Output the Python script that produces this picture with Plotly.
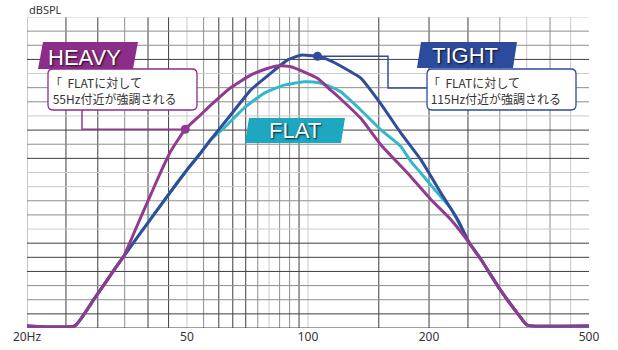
import numpy as np
import plotly.graph_objects as go

# ---- response data (frequency in Hz, level in grid divisions above the floor) ----
HEAVY_HZ = [20, 26.3, 29.3, 33.2, 34.8, 37.5, 40.1, 42.9, 45.5, 49.5, 54.0, 57.2, 64.2, 72.0,
            79.2, 84.7, 90.6, 97.7, 105.6, 113.9, 120.6, 135.3, 151.9, 177.0, 202.4, 226.8,
            252.0, 269.6, 296.8, 326.4, 349.0, 359.0, 500]
HEAVY_LV = [0.15, 0.15, 2.0, 4.25, 5.07, 7.18, 9.07, 10.95, 12.48, 14.06, 15.07, 15.75, 17.0, 17.89,
            18.36, 18.55, 18.48, 18.12, 17.66, 16.83, 16.2, 14.83, 12.95, 10.95, 9.07, 7.66,
            6.01, 4.83, 2.95, 1.31, 0.25, 0.15, 0.15]

TIGHT_HZ = [20, 26.3, 29.3, 33.2, 38.3, 44.6, 50.0, 54.0, 57.2, 64.2, 72.0, 80.7, 88.8, 95.9,
            105.6, 113.9, 120.6, 135.3, 151.9, 170.3, 191.0, 214.2, 235.8, 252.0, 269.6, 296.8,
            326.4, 349.0, 359.0, 500]
TIGHT_LV = [0.15, 0.15, 2.0, 4.25, 6.72, 9.30, 11.19, 12.36, 13.30, 15.07, 16.83, 18.01, 18.95, 19.30,
            19.22, 18.9, 18.53, 17.68, 15.84, 13.78, 11.89, 9.54, 7.66, 6.01, 4.83, 2.95,
            1.31, 0.25, 0.15, 0.15]

FLAT_HZ = [20, 26.3, 29.3, 33.2, 38.3, 44.6, 50.0, 54.0, 57.2, 61.7, 69.2, 77.7, 87.1, 97.7,
           105.6, 113.9, 120.6, 135.3, 151.9, 170.3, 180.4, 191.0, 210.2, 226.8, 252.0, 269.6,
           296.8, 326.4, 349.0, 359.0, 500]
FLAT_LV = [0.15, 0.15, 2.0, 4.25, 6.72, 9.30, 11.19, 12.36, 13.30, 14.13, 15.54, 16.6, 17.18, 17.42,
           17.37, 17.06, 16.71, 15.42, 14.01, 12.83, 11.77, 10.95, 9.54, 8.45, 6.01, 4.83,
           2.95, 1.31, 0.25, 0.15, 0.15]

X_TICKS = [20, 50, 100, 200, 500]
X_TICK_TEXT = ["20Hz", "50", "100", "200", "500"]

# callout anchor points on the curves
HEAVY_DOT_HZ = 49.5
TIGHT_DOT_HZ = 105.6

HEAVY_NOTE = "「\u00a0\u00a0FLATに対して<br>\u00a055Hz付近が強調される"
TIGHT_NOTE = "「\u00a0\u00a0FLATに対して<br>\u00a0115Hz付近が強調される"

# ---- styling ----
C_HEAVY = "#923a90"
C_TIGHT = "#2f4d99"
C_FLAT = "#33b8c9"
B_HEAVY = "#8c2e89"
B_TIGHT = "#2c4b9d"
B_FLAT = "#1ea7c0"

W, H = 618, 350
ML, MR, MT, MB = 27, 29, 17, 22
PW, PH = W - ML - MR, H - MT - MB
Y_MAX = 22

# grid lines: frequency positions and their tone
VGRID_HZ = [20, 25, 30, 35, 40, 45, 50, 55, 60, 65, 70, 75, 80, 85, 90, 95, 100,
            150, 200, 250, 300, 350, 400, 450, 500]
VGRID_TONE = "mddmddlmdddmlmmdldddmlml"
HGRID_TONE = "lmmdlmmldmdllmmldddmmdd"  # from top (level 22) to bottom (level 0)
TONES = {"d": "#3e3e3e", "m": "#8e8e8e", "l": "#cacaca"}


def X(px):
    return (px - ML) / PW


def Y(py):
    return (H - MB - py) / PH


def level_at(hz_list, lv_list, hz):
    return float(np.interp(np.log10(hz), np.log10(hz_list), lv_list))


def parallelogram(x0, x1, y0, y1, skew):
    return (f"M {X(x0 + skew)},{Y(y0)} L {X(x1 + skew)},{Y(y0)} "
            f"L {X(x1)},{Y(y1)} L {X(x0)},{Y(y1)} Z")


def round_rect(x0, y0, x1, y1, r):
    return (f"M {X(x0 + r)},{Y(y0)} L {X(x1 - r)},{Y(y0)} Q {X(x1)},{Y(y0)} {X(x1)},{Y(y0 + r)} "
            f"L {X(x1)},{Y(y1 - r)} Q {X(x1)},{Y(y1)} {X(x1 - r)},{Y(y1)} "
            f"L {X(x0 + r)},{Y(y1)} Q {X(x0)},{Y(y1)} {X(x0)},{Y(y1 - r)} "
            f"L {X(x0)},{Y(y0 + r)} Q {X(x0)},{Y(y0)} {X(x0 + r)},{Y(y0)} Z")


fig = go.Figure()

curve = dict(mode="lines", line_shape="spline", hoverinfo="skip", showlegend=False)
fig.add_trace(go.Scatter(x=FLAT_HZ, y=FLAT_LV, line=dict(color=C_FLAT, width=3, smoothing=0.4), **curve))
fig.add_trace(go.Scatter(x=TIGHT_HZ, y=TIGHT_LV, line=dict(color=C_TIGHT, width=3, smoothing=0.4), **curve))
fig.add_trace(go.Scatter(x=HEAVY_HZ, y=HEAVY_LV, line=dict(color=C_HEAVY, width=3, smoothing=0.4), **curve))

# callout leader lines, drawn in data space
heavy_dot_lv = level_at(HEAVY_HZ, HEAVY_LV, HEAVY_DOT_HZ)
tight_dot_lv = level_at(TIGHT_HZ, TIGHT_LV, TIGHT_DOT_HZ)
box_bottom_lv = (H - MB - 110) / PH * Y_MAX
heavy_leader_hz = 20 * 25 ** X(82)
tight_bend_hz = 20 * 25 ** X(388)
tight_box_hz = 20 * 25 ** X(427)
tight_leader_lv = (H - MB - 88) / PH * Y_MAX

fig.add_trace(go.Scatter(x=[heavy_leader_hz, heavy_leader_hz, HEAVY_DOT_HZ],
                         y=[box_bottom_lv, heavy_dot_lv, heavy_dot_lv],
                         mode="lines", line=dict(color=C_HEAVY, width=1.5),
                         hoverinfo="skip", showlegend=False))
fig.add_trace(go.Scatter(x=[TIGHT_DOT_HZ, tight_bend_hz, tight_bend_hz, tight_box_hz],
                         y=[tight_dot_lv, tight_dot_lv, tight_leader_lv, tight_leader_lv],
                         mode="lines", line=dict(color=C_TIGHT, width=1.5),
                         hoverinfo="skip", showlegend=False))
fig.add_trace(go.Scatter(x=[HEAVY_DOT_HZ], y=[heavy_dot_lv], mode="markers",
                         marker=dict(color=C_HEAVY, size=9), hoverinfo="skip", showlegend=False))
fig.add_trace(go.Scatter(x=[TIGHT_DOT_HZ], y=[tight_dot_lv], mode="markers",
                         marker=dict(color=C_TIGHT, size=9), hoverinfo="skip", showlegend=False))

shapes = []
for hz, tone in zip(VGRID_HZ, VGRID_TONE):
    shapes.append(dict(type="line", xref="x", yref="paper", x0=hz, x1=hz, y0=0, y1=1,
                       line=dict(color=TONES[tone], width=1), layer="below"))
for k, tone in enumerate(HGRID_TONE):
    lv = Y_MAX - k
    shapes.append(dict(type="line", xref="paper", yref="y", x0=0, x1=1, y0=lv, y1=lv,
                       line=dict(color=TONES[tone], width=1), layer="below"))

# note boxes
shapes.append(dict(type="path", xref="paper", yref="paper", path=round_rect(48, 69, 197, 110, 5),
                   fillcolor="white", line=dict(color=B_HEAVY, width=1.3), layer="above"))
shapes.append(dict(type="path", xref="paper", yref="paper", path=round_rect(427, 69, 576, 110, 5),
                   fillcolor="white", line=dict(color=B_TIGHT, width=1.3), layer="above"))
# name banners
shapes.append(dict(type="path", xref="paper", yref="paper", path=parallelogram(38, 133, 42, 69, 5),
                   fillcolor=B_HEAVY, line=dict(width=0), layer="above"))
shapes.append(dict(type="path", xref="paper", yref="paper", path=parallelogram(417, 513, 42, 68, 4),
                   fillcolor=B_TIGHT, line=dict(width=0), layer="above"))
shapes.append(dict(type="path", xref="paper", yref="paper", path=parallelogram(245, 341, 118, 143, 4),
                   fillcolor=B_FLAT, line=dict(width=0), layer="above"))

banner_font = dict(family="Liberation Sans, Arial, sans-serif", size=22, color="white",
                   shadow="1px 1px 2px rgba(0,0,0,0.85)")
note_font = dict(family="Noto Sans CJK JP, sans-serif", size=12, color="#333333")

annotations = [
    dict(text="HEAVY", x=X(84), y=Y(57), xref="paper", yref="paper", showarrow=False,
         xanchor="center", yanchor="middle", font=banner_font),
    dict(text="TIGHT", x=X(465), y=Y(55.5), xref="paper", yref="paper", showarrow=False,
         xanchor="center", yanchor="middle", font=banner_font),
    dict(text="FLAT", x=X(295), y=Y(130), xref="paper", yref="paper", showarrow=False,
         xanchor="center", yanchor="middle", font=banner_font),
    dict(text=HEAVY_NOTE, x=X(48), y=Y(90), xref="paper", yref="paper", showarrow=False,
         xanchor="left", yanchor="middle", align="left", font=note_font),
    dict(text=TIGHT_NOTE, x=X(426), y=Y(90), xref="paper", yref="paper", showarrow=False,
         xanchor="left", yanchor="middle", align="left", font=note_font),
    dict(text="dBSPL", x=0, y=Y(9), xref="paper", yref="paper", showarrow=False,
         xanchor="left", yanchor="middle",
         font=dict(family="Noto Sans, sans-serif", size=11, color="#333333")),
]

fig.update_layout(
    width=W, height=H,
    margin=dict(l=ML, r=MR, t=MT, b=MB),
    paper_bgcolor="white", plot_bgcolor="white",
    shapes=shapes, annotations=annotations,
    xaxis=dict(type="log", range=[np.log10(20), np.log10(500)], tickvals=X_TICKS,
               ticktext=X_TICK_TEXT, showgrid=False, zeroline=False, showline=False, ticks="",
               automargin=False,
               tickfont=dict(family="Noto Sans, sans-serif", size=12, color="#333333")),
    yaxis=dict(range=[0, Y_MAX], showgrid=False, zeroline=False, showline=False,
               showticklabels=False, ticks="", automargin=False),
)

fig.write_html("out.html")
